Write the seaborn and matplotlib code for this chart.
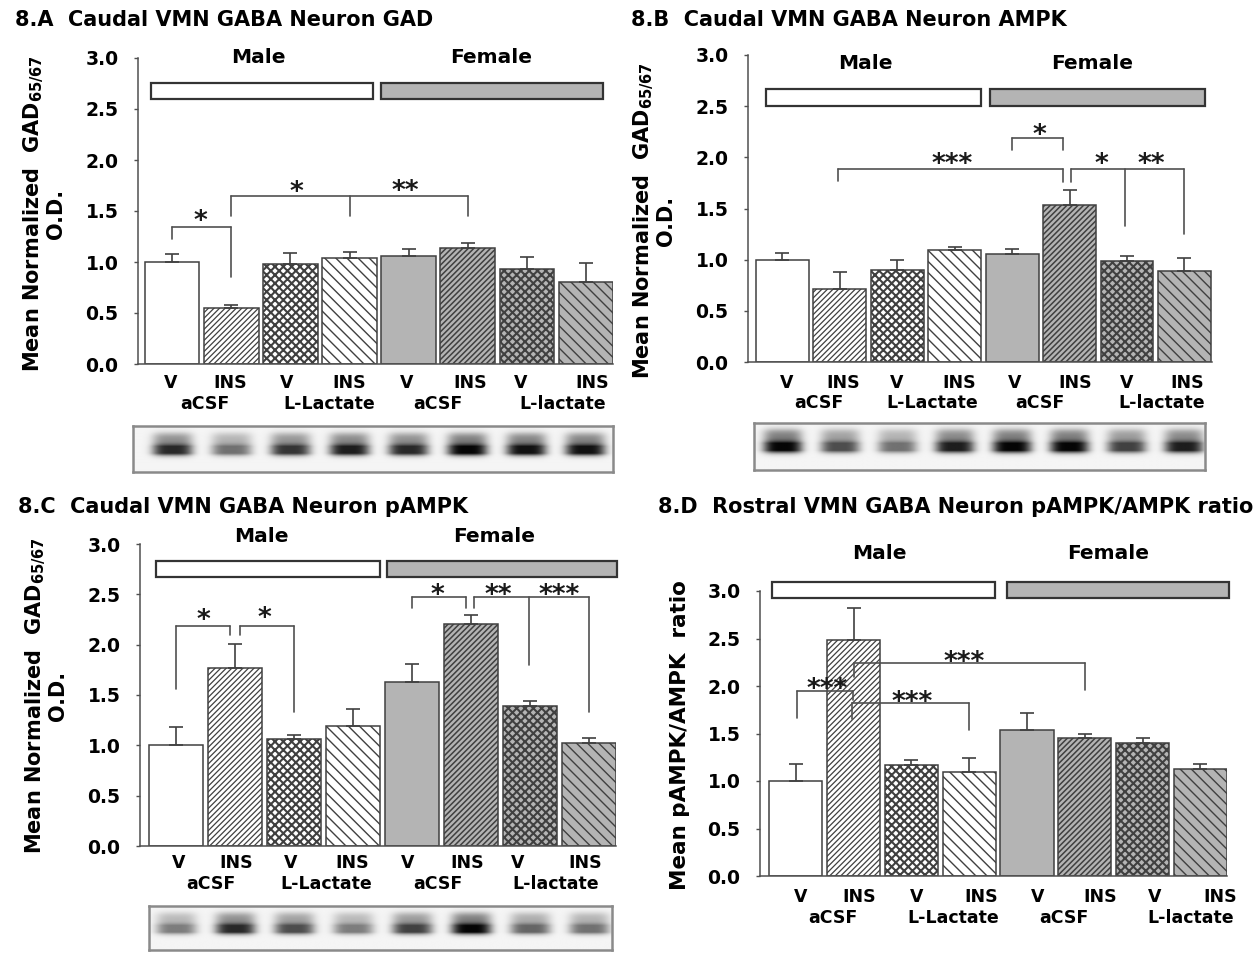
import numpy as np
import pandas as pd
import matplotlib
matplotlib.use("Agg")
import matplotlib.pyplot as plt
import seaborn as sns
from matplotlib.patches import Rectangle
from matplotlib.transforms import offset_copy
from matplotlib.ticker import FormatStrFormatter

# ------------------------------------------------------------------ data
groups = ["M-aCSF-V", "M-aCSF-INS", "M-Lac-V", "M-Lac-INS",
          "F-aCSF-V", "F-aCSF-INS", "F-Lac-V", "F-Lac-INS"]
treatment_labels = ["V", "INS", "V", "INS", "V", "INS", "V", "INS"]
infusion_labels = ["aCSF", "L-Lactate", "aCSF", "L-lactate"]
sex_labels = ["Male", "Female"]

gad_mean = [1.00, 0.55, 0.98, 1.04, 1.06, 1.14, 0.93, 0.80]
gad_sem = [0.08, 0.03, 0.11, 0.06, 0.07, 0.05, 0.12, 0.19]
ampk_mean = [1.00, 0.71, 0.90, 1.09, 1.06, 1.53, 0.99, 0.89]
ampk_sem = [0.07, 0.17, 0.10, 0.035, 0.04, 0.15, 0.05, 0.13]
pampk_mean = [1.00, 1.77, 1.06, 1.19, 1.63, 2.21, 1.39, 1.02]
pampk_sem = [0.18, 0.24, 0.04, 0.17, 0.18, 0.08, 0.05, 0.05]
ratio_mean = [1.00, 2.48, 1.17, 1.09, 1.54, 1.45, 1.40, 1.13]
ratio_sem = [0.18, 0.34, 0.05, 0.15, 0.18, 0.04, 0.05, 0.05]

# western-blot band darkness per lane (0 = none, 1 = black)
blot_gad = [0.85, 0.55, 0.80, 0.90, 0.85, 1.00, 0.95, 0.95]
blot_ampk = [1.00, 0.70, 0.55, 0.90, 1.00, 1.00, 0.75, 0.90]
blot_pampk = [0.50, 0.85, 0.70, 0.50, 0.75, 1.00, 0.60, 0.55]

titles = ["8.A  Caudal VMN GABA Neuron GAD",
          "8.B  Caudal VMN GABA Neuron AMPK",
          "8.C  Caudal VMN GABA Neuron pAMPK",
          "8.D  Rostral VMN GABA Neuron pAMPK/AMPK ratio"]
ylabel_gad = "Mean Normalized  GAD$_{65/67}$\nO.D."
ylabel_ratio = "Mean pAMPK/AMPK  ratio"

# ------------------------------------------------------------------ style
sns.set_theme(style="white")
plt.rcParams["font.family"] = ["DejaVu Sans"]
plt.rcParams["font.weight"] = "bold"
plt.rcParams["text.color"] = "black"
plt.rcParams["axes.labelcolor"] = "black"
plt.rcParams["xtick.color"] = "black"
plt.rcParams["ytick.color"] = "black"
plt.rcParams["mathtext.fontset"] = "custom"
plt.rcParams["mathtext.rm"] = "DejaVu Sans:bold"
plt.rcParams["mathtext.it"] = "DejaVu Sans:bold"
plt.rcParams["mathtext.bf"] = "DejaVu Sans:bold"
plt.rcParams["hatch.linewidth"] = 1.0

W, H = 1260, 959
fig = plt.figure(figsize=(W / 100, H / 100), dpi=100)
fig.patch.set_facecolor("white")

GRAY = "#b4b4b4"
EDGE = "#404040"
LINE = "#505050"
facecolors = ["white"] * 4 + [GRAY] * 4
hatches = [None, "//////", "xxxx", "\\\\\\", None, "//////", "xxxx", "\\\\\\"]
hatch_lw = [1.0, 0.9, 1.5, 1.0, 1.0, 1.1, 1.5, 1.0]


def pxaxes(left, right, top, bottom):
    return fig.add_axes([left / W, 1 - bottom / H, (right - left) / W, (bottom - top) / H])


panels = [
    dict(mean=gad_mean, sem=gad_sem, box=(138, 613, 58, 364), xlim=(-0.58, 7.46),
         sexbox=(-0.36, 3.39, 3.54, 7.29, 2.60, 2.75), sexy=3.0,
         row1=[-0.03, 0.98, 1.93, 3.0, 3.97, 5.05, 5.9, 7.1], row2=[0.55, 2.65, 4.5, 6.6],
         rowoff=(19, 40),
         brackets=[dict(top=1.34, drops=[(0, 1.23), (0.99, 0.85)], stars=[(0.47, 1.48, "*")]),
                   dict(top=1.65, drops=[(1.0, 1.45), (3.0, 1.45), (5.0, 1.45)],
                        stars=[(2.1, 1.77, "*"), (3.95, 1.78, "**")])],
         blot=blot_gad, blotbox=(133, 613, 426, 472),
         title_xy=(15, 20), ylab=ylabel_gad, ylab_xy=(44, 214), ylab_fs=15),
    dict(mean=ampk_mean, sem=ampk_sem, box=(748, 1212, 55, 362), xlim=(-0.60, 7.48),
         sexbox=(-0.28, 3.45, 3.61, 7.36, 2.50, 2.67), sexy=2.92,
         row1=[0.07, 1.05, 1.99, 3.08, 4.05, 5.1, 5.99, 7.05], row2=[0.64, 2.61, 4.48, 6.6],
         rowoff=(21, 41),
         brackets=[dict(top=2.19, drops=[(4.0, 2.07), (4.89, 2.07)], stars=[(4.48, 2.30, "*")]),
                   dict(top=1.89, drops=[(0.97, 1.77), (4.89, 1.76)], stars=[(2.96, 2.02, "***")]),
                   dict(top=1.89, drops=[(5.02, 1.76), (5.96, 1.33), (7.0, 1.25)],
                        stars=[(5.56, 2.02, "*"), (6.42, 2.02, "**")])],
         blot=blot_ampk, blotbox=(754, 1205, 423, 470),
         title_xy=(631, 20), ylab=ylabel_gad, ylab_xy=(654, 221), ylab_fs=15),
    dict(mean=pampk_mean, sem=pampk_sem, box=(140, 616, 544, 846), xlim=(-0.61, 7.46),
         sexbox=(-0.34, 3.46, 3.58, 7.47, 2.67, 2.83), sexy=3.07,
         row1=[0.05, 1.02, 1.94, 2.99, 3.92, 4.94, 5.8, 6.93], row2=[0.59, 2.55, 4.44, 6.43],
         rowoff=(17, 38),
         brackets=[dict(top=2.19, drops=[(0, 1.556), (0.91, 2.10)], stars=[(0.46, 2.33, "*")]),
                   dict(top=2.19, drops=[(1.09, 2.10), (2.0, 1.33)], stars=[(1.5, 2.35, "*")]),
                   dict(top=2.47, drops=[(4.0, 2.36), (4.91, 2.36)], stars=[(4.44, 2.58, "*")]),
                   dict(top=2.47, drops=[(5.06, 2.36), (5.99, 1.80), (7.0, 1.33)],
                        stars=[(5.47, 2.58, "**"), (6.49, 2.58, "***")])],
         blot=blot_pampk, blotbox=(149, 612, 906, 950),
         title_xy=(18, 507), ylab=ylabel_gad, ylab_xy=(46, 696), ylab_fs=15),
    dict(mean=ratio_mean, sem=ratio_sem, box=(760, 1227, 591, 876), xlim=(-0.62, 7.46),
         sexbox=(-0.41, 3.45, 3.66, 7.50, 2.93, 3.09), sexy=3.39,
         row1=[0.09, 1.09, 2.09, 3.2, 4.18, 5.27, 6.2, 7.35], row2=[0.64, 2.72, 4.64, 6.83],
         rowoff=(21, 42),
         brackets=[dict(top=1.95, drops=[(0.02, 1.66), (0.99, 1.85)], stars=[(0.54, 2.06, "***")]),
                   dict(top=2.245, drops=[(1.01, 2.10), (5.0, 1.96)], stars=[(2.91, 2.34, "***")]),
                   dict(top=1.82, drops=[(0.97, 1.65), (2.99, 1.54)], stars=[(2.02, 1.92, "***")])],
         blot=None, blotbox=None,
         title_xy=(658, 507), ylab=ylabel_ratio, ylab_xy=(680, 735), ylab_fs=15.5),
]

STAR_FS = 19

for i, p in enumerate(panels):
    l, r, t, b = p["box"]
    ax = pxaxes(l, r, t, b)
    df = pd.DataFrame({"group": groups, "mean": p["mean"]})
    sns.barplot(data=df, x="group", y="mean", order=groups, ax=ax, width=0.92,
                color="white", edgecolor=EDGE, linewidth=1.1, errorbar=None,
                saturation=1)
    for patch, fc, hc, hl in zip(ax.patches, facecolors, hatches, hatch_lw):
        patch.set_facecolor(fc)
        patch.set_edgecolor(EDGE)
        if hc:
            patch.set_hatch(hc)
            if hasattr(patch, "set_hatch_linewidth"):
                patch.set_hatch_linewidth(hl)
    x = np.arange(len(groups))
    ax.errorbar(x, p["mean"], yerr=[np.zeros(len(groups)), p["sem"]], fmt="none",
                ecolor=EDGE, elinewidth=1.2, capsize=5, capthick=1.2, zorder=3)

    ax.set_xlim(*p["xlim"])
    ax.set_ylim(0, 3.0)
    ax.set_yticks(np.arange(0, 3.01, 0.5))
    ax.yaxis.set_major_formatter(FormatStrFormatter("%.1f"))
    ax.set_xticks([])
    ax.set_xlabel("")
    ax.set_ylabel("")
    ax.tick_params(axis="y", length=3, width=1, color=LINE, direction="out",
                   pad=11, labelsize=13.5, left=True, labelcolor="black")
    for lab in ax.get_yticklabels():
        lab.set_fontweight("bold")
    for s in ["top", "right"]:
        ax.spines[s].set_visible(False)
    for s in ["left", "bottom"]:
        ax.spines[s].set_color(LINE)
        ax.spines[s].set_linewidth(1.1)
    ax.set_facecolor("white")

    # category labels
    for xp, lab in zip(p["row1"], treatment_labels):
        ax.annotate(lab, xy=(xp, 0), xycoords=("data", "axes fraction"),
                    xytext=(0, -p["rowoff"][0] * 0.72), textcoords="offset points",
                    ha="center", va="center", fontsize=12.5, fontweight="bold")
    for xp, lab in zip(p["row2"], infusion_labels):
        ax.annotate(lab, xy=(xp, 0), xycoords=("data", "axes fraction"),
                    xytext=(0, -p["rowoff"][1] * 0.72), textcoords="offset points",
                    ha="center", va="center", fontsize=12.5, fontweight="bold")

    # sex boxes and labels
    mx0, mx1, fx0, fx1, y0, y1 = p["sexbox"]
    ax.add_patch(Rectangle((mx0, y0), mx1 - mx0, y1 - y0, facecolor="white",
                           edgecolor="#333333", linewidth=1.6, clip_on=False, zorder=4))
    ax.add_patch(Rectangle((fx0, y0), fx1 - fx0, y1 - y0, facecolor=GRAY,
                           edgecolor="#333333", linewidth=1.6, clip_on=False, zorder=4))
    ax.text(1.45, p["sexy"], sex_labels[0], ha="center", va="center",
            fontsize=14.5, fontweight="bold", clip_on=False)
    ax.text(5.4, p["sexy"], sex_labels[1], ha="center", va="center",
            fontsize=14.5, fontweight="bold", clip_on=False)

    # significance brackets
    star_tr = offset_copy(ax.transData, fig=fig, y=-0.62 * STAR_FS, units="points")
    for br in p["brackets"]:
        xs = [d[0] for d in br["drops"]]
        ax.plot([min(xs), max(xs)], [br["top"], br["top"]], color=LINE, lw=1.2,
                clip_on=False, zorder=5)
        for dx, dy in br["drops"]:
            ax.plot([dx, dx], [dy, br["top"]], color=LINE, lw=1.2, clip_on=False, zorder=5)
        for sx, sy, st in br["stars"]:
            ax.text(sx, sy, st, transform=star_tr, ha="center", va="baseline",
                    fontsize=STAR_FS, fontweight="bold", color="#1a1a1a", clip_on=False)

    # western blot strip
    if p["blot"] is not None:
        bl, brt, bt, bb = p["blotbox"]
        bax = pxaxes(bl, brt, bt, bb)
        scale = (p["xlim"][1] - p["xlim"][0]) / (r - l)
        bx0 = p["xlim"][0] + (bl - l) * scale
        bx1 = p["xlim"][0] + (brt - l) * scale
        xs = np.linspace(bx0, bx1, 480)
        ys = np.linspace(0, 1, 60)[:, None]
        img = np.zeros((60, 480))
        core = np.exp(-((ys - 0.53) / 0.11) ** 2)
        smear = 0.5 / (1 + np.exp(-(ys - 0.16) / 0.04)) * (1 / (1 + np.exp((ys - 0.6) / 0.03)))
        py = np.clip(core + smear, 0, 1)
        for k, dark in enumerate(p["blot"]):
            px = np.exp(-np.abs((xs - k) / 0.34) ** 4)
            img += dark * px[None, :] * py
        img = 0.96 - 0.94 * np.clip(img, 0, 1)
        bax.imshow(img, cmap="gray", vmin=0, vmax=1, aspect="auto",
                   extent=(bx0, bx1, 1, 0), interpolation="bilinear")
        bax.set_xlim(bx0, bx1)
        bax.set_ylim(1, 0)
        bax.set_xticks([])
        bax.set_yticks([])
        for s in bax.spines.values():
            s.set_color("#8a8a8a")
            s.set_linewidth(1.8)

    # titles and y labels
    tx, ty = p["title_xy"]
    fig.text(tx / W, 1 - ty / H, titles[i], ha="left", va="center",
             fontsize=15, fontweight="bold")
    lx, ly = p["ylab_xy"]
    fig.text(lx / W, 1 - ly / H, p["ylab"], rotation=90, ha="center", va="center",
             fontsize=p["ylab_fs"], fontweight="bold", linespacing=0.95,
             multialignment="center")

fig.savefig("out.png", dpi=100, facecolor="white")
